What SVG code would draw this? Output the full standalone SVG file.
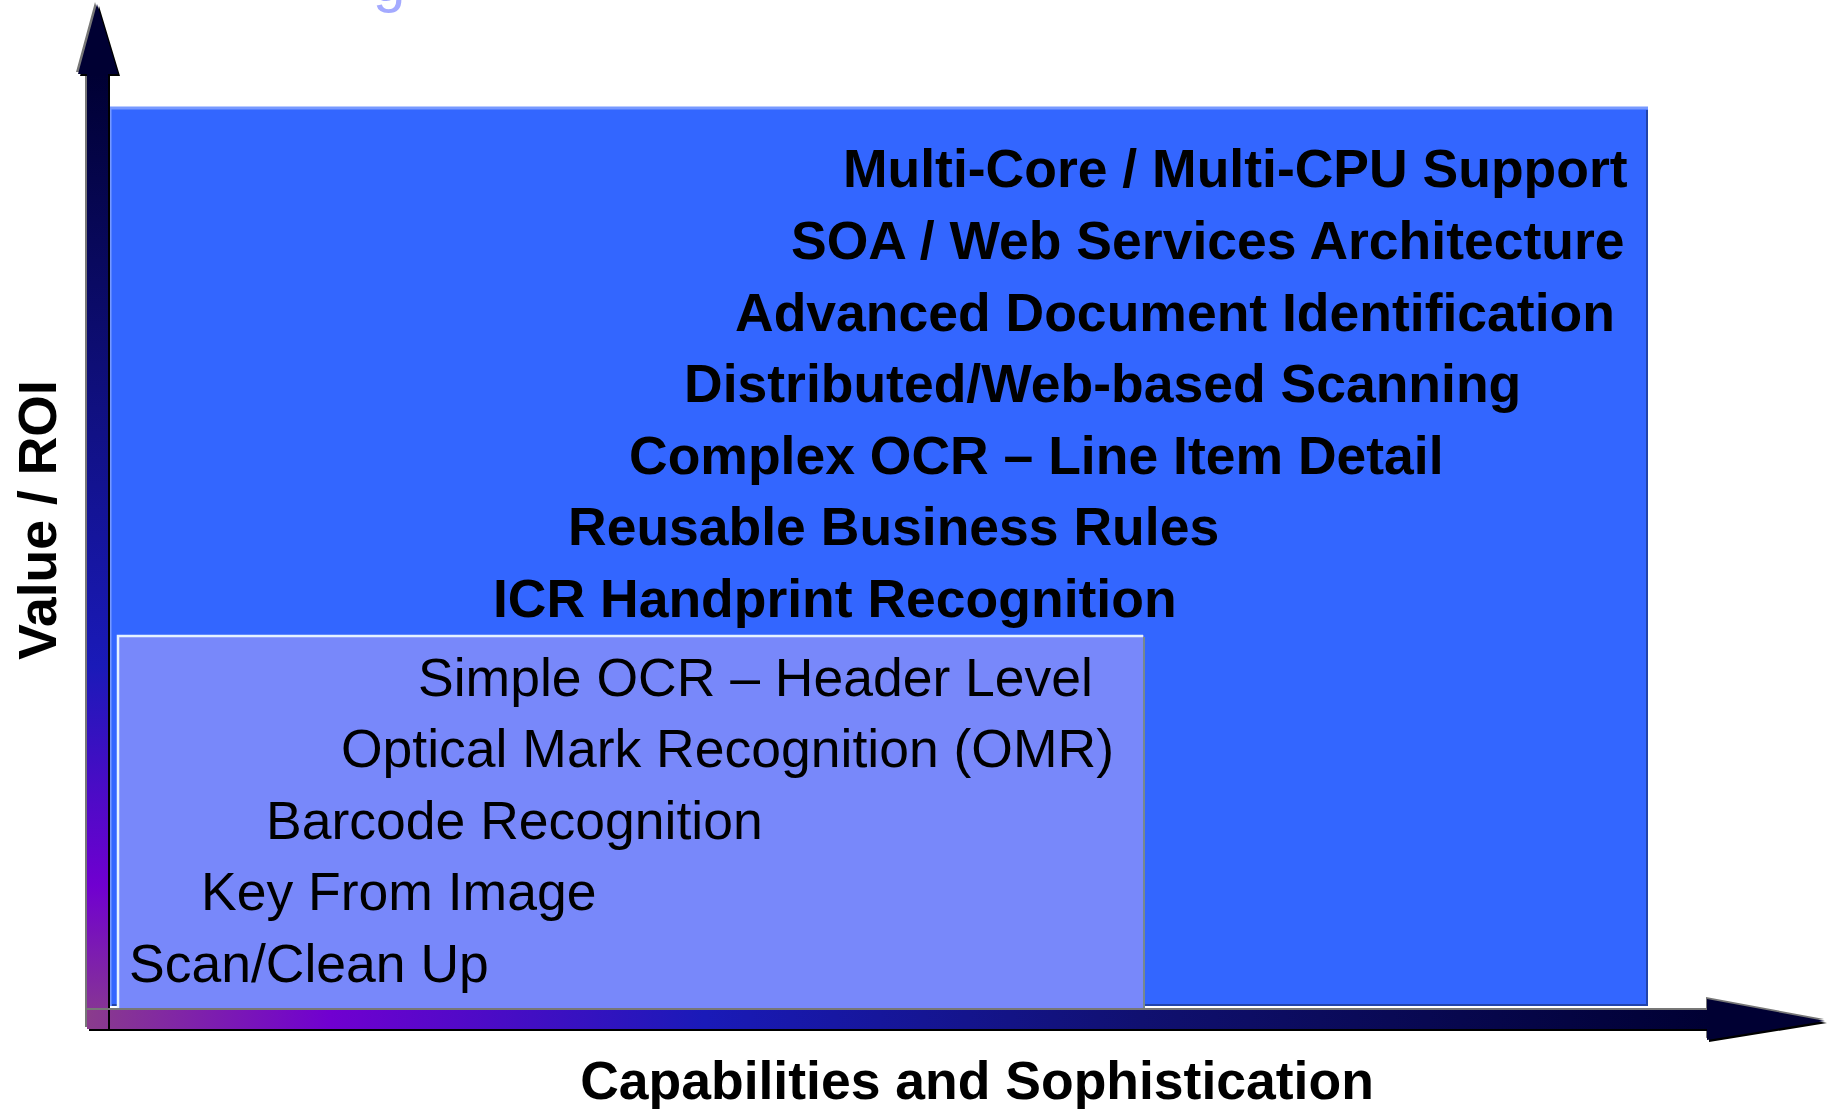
<svg xmlns="http://www.w3.org/2000/svg" width="1831" height="1109" viewBox="0 0 1831 1109">
<defs>
<linearGradient id="gv" x1="0" y1="74" x2="0" y2="1029" gradientUnits="userSpaceOnUse">
<stop offset="0" stop-color="#000033"/>
<stop offset="0.35" stop-color="#101080"/>
<stop offset="0.62" stop-color="#1a1ab8"/>
<stop offset="0.85" stop-color="#7000d0"/>
<stop offset="1" stop-color="#8a3c8c"/>
</linearGradient>
<linearGradient id="gh" x1="87" y1="0" x2="1710" y2="0" gradientUnits="userSpaceOnUse">
<stop offset="0" stop-color="#8a3c8c"/>
<stop offset="0.15" stop-color="#7000d0"/>
<stop offset="0.38" stop-color="#1a1ab8"/>
<stop offset="0.65" stop-color="#101070"/>
<stop offset="1" stop-color="#000033"/>
</linearGradient>
<style>
.b{font-family:"Liberation Sans",Arial,sans-serif;font-weight:bold;font-size:53.5px;fill:#000}
.r{font-family:"Liberation Sans",Arial,sans-serif;font-size:53.5px;fill:#000}
</style>
</defs>
<rect width="1831" height="1109" fill="#fff"/>
<text x="373" y="1" style="font-family:'Liberation Sans',Arial,sans-serif;font-size:58px;fill:#a4aaff">g</text>

<g id="outer-box">
<rect x="110" y="108" width="1538" height="898" fill="#3366ff"/>
<path d="M110 1006 V108 H1648" fill="none" stroke="#7799ff" stroke-width="3"/>
<path d="M1647 110 V1005 H112" fill="none" stroke="#2244aa" stroke-width="2"/>
<text class="b" x="843" y="187.4">Multi-Core / Multi-CPU Support</text>
<text class="b" x="791" y="259">SOA / Web Services Architecture</text>
<text class="b" x="735" y="330.6">Advanced Document Identification</text>
<text class="b" x="684" y="402.2">Distributed/Web-based Scanning</text>
<text class="b" x="629" y="473.8">Complex OCR – Line Item Detail</text>
<text class="b" x="568" y="545.4">Reusable Business Rules</text>
<text class="b" x="493" y="617">ICR Handprint Recognition</text>
</g>

<g id="inner-box">
<rect x="117" y="635" width="1027" height="374" fill="#7888fa"/>
<path d="M118 1008 V636 H1143" fill="none" stroke="#e6f2ff" stroke-width="2.5"/>
<path d="M1144 637 V1009 H120" fill="none" stroke="#76888e" stroke-width="2"/>
<text class="r" x="418" y="695.6">Simple OCR – Header Level</text>
<text class="r" x="341" y="767.2">Optical Mark Recognition (OMR)</text>
<text class="r" x="266" y="838.8">Barcode Recognition</text>
<text class="r" x="201" y="910.4">Key From Image</text>
<text class="r" x="129" y="982">Scan/Clean Up</text>
</g>

<g id="connectors">
<g id="y-axis">
<path d="M78 74 L97 4 L118 74 H108 V1029 H87 V74 Z" fill="#777" transform="translate(-2,-2)"/>
<path d="M78 74 L97 4 L118 74 H108 V1029 H87 V74 Z" fill="#000" transform="translate(2,2)"/>
<path d="M78 74 L97 4 L118 74 H108 V1029 H87 V74 Z" fill="url(#gv)"/>
</g>
<g id="x-axis">
<path d="M87 1010 H1707 V999 L1825 1021 L1707 1040 V1029 H87 Z" fill="#777" transform="translate(-1,-2)"/>
<path d="M87 1010 H1707 V999 L1825 1021 L1707 1040 V1029 H87 Z" fill="#000" transform="translate(2,2)"/>
<path d="M87 1010 H1707 V999 L1825 1021 L1707 1040 V1029 H87 Z" fill="url(#gh)"/>
<path d="M109 1010 V1029" stroke="#000" stroke-width="2"/>
</g>
</g>

<text class="b" transform="translate(56,520) rotate(-90)" text-anchor="middle">Value / ROI</text>
<text class="b" x="977" y="1099" text-anchor="middle">Capabilities and Sophistication</text>
</svg>
